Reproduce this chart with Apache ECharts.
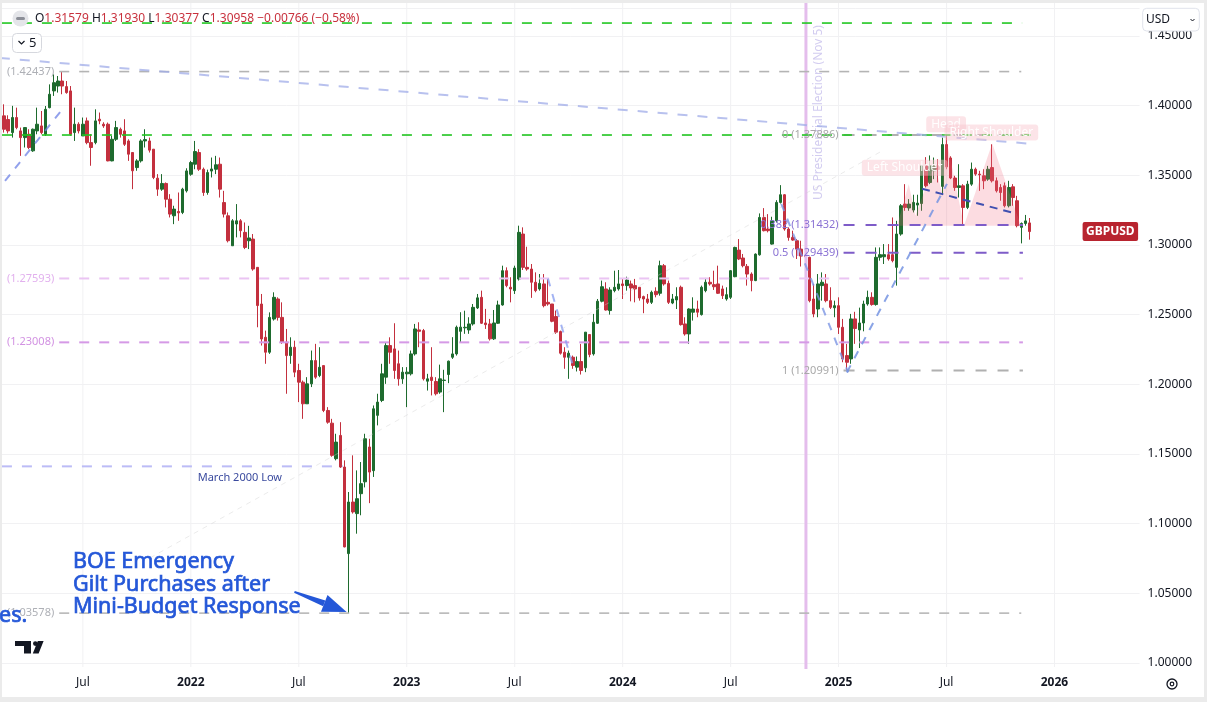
<!DOCTYPE html>
<html><head><meta charset="utf-8">
<script src="https://cdn.jsdelivr.net/npm/echarts@6/dist/echarts.min.js"></script>
<style>html,body{margin:0;padding:0;background:#fff;overflow:hidden}#c{width:1207px;height:702px}</style>
</head><body><div id="c"></div>
<script>
// ---------------- DATA ----------------
const firstWeek = '2021-02-22';
const weekCount = 274;
const opens = [
1.3926,1.3900,1.3806,1.3914,1.3818,1.3770,1.3794,1.3675,1.3818,1.3854,
1.3794,1.3985,1.4105,1.4140,1.4176,1.4136,1.4105,1.3806,1.3866,1.3782,
1.3890,1.3734,1.3734,1.3902,1.3866,1.3866,1.3603,1.3758,1.3830,1.3818,
1.3746,1.3663,1.3555,1.3603,1.3746,1.3746,1.3687,1.3479,1.3400,1.3441,
1.3328,1.3209,1.3240,1.3233,1.3388,1.3507,1.3579,1.3663,1.3543,1.3376,
1.3530,1.3543,1.3579,1.3304,1.3209,1.2994,1.3150,1.3173,1.3090,1.3030,
1.3042,1.2839,1.2576,1.2337,1.2230,1.2468,1.2612,1.2480,1.2302,1.2206,
1.2266,1.2099,1.2015,1.1860,1.2003,1.2170,1.2063,1.2134,1.1812,1.1721,
1.1466,1.1633,1.1406,1.0785,1.1155,1.1072,1.1215,1.1300,1.1550,1.1380,
1.1777,1.1884,1.2051,1.2278,1.2254,1.2147,1.2039,1.2075,1.2075,1.2218,
1.2390,1.2385,1.2022,1.2051,1.2020,1.1944,1.2027,1.2070,1.2194,1.2218,
1.2380,1.2405,1.2390,1.2433,1.2548,1.2624,1.2440,1.2433,1.2326,1.2438,
1.2569,1.2815,1.2696,1.2672,1.2755,1.3078,1.2839,1.2827,1.2732,1.2684,
1.2720,1.2588,1.2576,1.2486,1.2378,1.2230,1.2194,1.2194,1.2123,1.2163,
1.2118,1.2357,1.2218,1.2438,1.2596,1.2684,1.2529,1.2672,1.2684,1.2720,
1.2708,1.2720,1.2708,1.2696,1.2629,1.2612,1.2588,1.2667,1.2653,1.2851,
1.2724,1.2583,1.2605,1.2696,1.2433,1.2361,1.2517,1.2540,1.2500,1.2672,
1.2732,1.2715,1.2720,1.2684,1.2612,1.2624,1.2772,1.2963,1.2906,1.2846,
1.2791,1.2744,1.2929,1.3197,1.3114,1.3006,1.3173,1.3305,1.3360,1.3114,
1.3054,1.3030,1.2970,1.2925,1.2911,1.2612,1.2540,1.2708,1.2720,1.2600,
1.2549,1.2564,1.2409,1.2206,1.2182,1.2469,1.2390,1.2440,1.2576,1.2624,
1.2572,1.2911,1.2915,1.2930,1.2930,1.2839,1.3078,1.3293,1.3265,1.3250,
1.3286,1.3297,1.3567,1.3448,1.3532,1.3567,1.3420,1.3720,1.3624,1.3480,
1.3412,1.3424,1.3269,1.3436,1.3543,1.3508,1.3496,1.3472,1.3555,1.3460,
1.3412,1.3424,1.3281,1.3417,1.3317,1.3126,1.3154,1.31579];
const highs = [
1.4009,1.3930,1.3998,1.3985,1.3842,1.3845,1.3830,1.3835,1.3985,1.3961,
1.3997,1.4152,1.4224,1.4212,1.4244,1.4176,1.4140,1.3985,1.3880,1.3914,
1.3914,1.3794,1.3973,1.3950,1.3880,1.3878,1.3782,1.3890,1.3842,1.3902,
1.3758,1.3663,1.3615,1.3758,1.3830,1.3770,1.3687,1.3508,1.3508,1.3448,
1.3364,1.3281,1.3376,1.3410,1.3550,1.3603,1.3746,1.3687,1.3555,1.3540,
1.3627,1.3639,1.3627,1.3388,1.3233,1.3185,1.3293,1.3185,1.3161,1.3137,
1.3078,1.2839,1.2648,1.2385,1.2516,1.2660,1.2624,1.2588,1.2397,1.2337,
1.2313,1.2147,1.2027,1.2051,1.2242,1.2290,1.2266,1.2134,1.1836,1.1752,
1.1645,1.1728,1.1454,1.1227,1.1490,1.1382,1.1442,1.1645,1.1609,1.1848,
1.1932,1.2147,1.2302,1.2337,1.2438,1.2242,1.2123,1.2123,1.2242,1.2433,
1.2445,1.2397,1.2075,1.2266,1.2051,1.2141,1.2104,1.2170,1.2338,1.2421,
1.2517,1.2528,1.2481,1.2576,1.2648,1.2672,1.2541,1.2469,1.2533,1.2600,
1.2851,1.2839,1.2768,1.2851,1.3138,1.3126,1.2987,1.2863,1.2803,1.2791,
1.2791,1.2755,1.2576,1.2529,1.2385,1.2266,1.2242,1.2206,1.2199,1.2290,
1.2374,1.2357,1.2505,1.2612,1.2744,1.2732,1.2696,1.2815,1.2820,1.2756,
1.2772,1.2744,1.2756,1.2696,1.2636,1.2648,1.2672,1.2696,1.2887,1.2863,
1.2744,1.2648,1.2696,1.2708,1.2481,1.2545,1.2624,1.2600,1.2708,1.2763,
1.2768,1.2815,1.2851,1.2708,1.2696,1.2820,1.2987,1.3042,1.2935,1.2863,
1.2803,1.2939,1.3226,1.3264,1.3221,1.3202,1.3321,1.3429,1.3365,1.3126,
1.3102,1.3042,1.3030,1.2990,1.2915,1.2720,1.2791,1.2803,1.2791,1.2696,
1.2600,1.2624,1.2469,1.2290,1.2505,1.2520,1.2550,1.2600,1.2672,1.2660,
1.2982,1.2982,1.3006,1.3006,1.3197,1.3173,1.3293,1.3436,1.3329,1.3360,
1.3360,1.3571,1.3630,1.3642,1.3627,1.3615,1.3770,1.3789,1.3636,1.3496,
1.3579,1.3436,1.3460,1.3591,1.3555,1.3532,1.3543,1.3567,1.3722,1.3484,
1.3436,1.3448,1.3460,1.3436,1.3352,1.3161,1.3215,1.31930];
const lows = [
1.3806,1.3800,1.3770,1.3830,1.3639,1.3699,1.3687,1.3668,1.3794,1.3794,
1.3782,1.3980,1.4069,1.4093,1.4081,1.4085,1.3782,1.3746,1.3800,1.3782,
1.3722,1.3568,1.3722,1.3866,1.3840,1.3600,1.3600,1.3746,1.3770,1.3710,
1.3603,1.3400,1.3532,1.3591,1.3699,1.3663,1.3472,1.3352,1.3388,1.3269,
1.3197,1.3149,1.3173,1.3221,1.3376,1.3496,1.3543,1.3531,1.3352,1.3360,
1.3484,1.3508,1.3340,1.3197,1.3018,1.2994,1.3054,1.3054,1.2970,1.2970,
1.2815,1.2409,1.2278,1.2147,1.2218,1.2457,1.2457,1.2290,1.1932,1.2147,
1.2051,1.1872,1.1752,1.1860,1.1980,1.2039,1.2051,1.1800,1.1717,1.1480,
1.1454,1.1400,1.0830,1.0358,1.1072,1.0928,1.1060,1.1260,1.1147,1.1335,
1.1705,1.1872,1.2003,1.2147,1.2039,1.1990,1.2003,1.1836,1.2063,1.2206,
1.2266,1.2027,1.1955,1.1920,1.1920,1.1932,1.1800,1.2008,1.2182,1.2206,
1.2302,1.2362,1.2362,1.2421,1.2540,1.2433,1.2397,1.2314,1.2318,1.2433,
1.2564,1.2696,1.2588,1.2648,1.2744,1.2820,1.2815,1.2620,1.2660,1.2672,
1.2552,1.2564,1.2445,1.2362,1.2213,1.2111,1.2039,1.2111,1.2092,1.2070,
1.2087,1.2194,1.2206,1.2433,1.2588,1.2529,1.2500,1.2660,1.2672,1.2612,
1.2672,1.2595,1.2588,1.2600,1.2510,1.2576,1.2576,1.2624,1.2636,1.2708,
1.2576,1.2575,1.2540,1.2421,1.2349,1.2290,1.2457,1.2481,1.2493,1.2660,
1.2708,1.2677,1.2648,1.2612,1.2600,1.2612,1.2768,1.2891,1.2839,1.2708,
1.2667,1.2740,1.2923,1.3097,1.3090,1.3002,1.3161,1.3297,1.3102,1.3030,
1.3030,1.2899,1.2845,1.2840,1.2588,1.2481,1.2481,1.2600,1.2588,1.2540,
1.2481,1.2361,1.2158,1.2099,1.2147,1.2290,1.2260,1.2380,1.2564,1.2564,
1.2564,1.2887,1.2863,1.2887,1.2875,1.2708,1.3066,1.3245,1.3245,1.3233,
1.3209,1.3245,1.3412,1.3436,1.3472,1.3448,1.3364,1.3543,1.3472,1.3388,
1.3340,1.3137,1.3257,1.3424,1.3496,1.3388,1.3400,1.3460,1.3448,1.3376,
1.3317,1.3269,1.3269,1.3281,1.3126,1.3011,1.3138,1.30377];
const closes = [
1.3830,1.3818,1.3914,1.3842,1.3770,1.3842,1.3699,1.3830,1.3866,1.3806,
1.3973,1.4081,1.4164,1.4176,1.4140,1.4093,1.3794,1.3866,1.3818,1.3866,
1.3734,1.3699,1.3890,1.3890,1.3854,1.3603,1.3758,1.3842,1.3794,1.3722,
1.3651,1.3532,1.3603,1.3746,1.3756,1.3680,1.3484,1.3400,1.3441,1.3328,
1.3221,1.3257,1.3230,1.3400,1.3531,1.3591,1.3670,1.3543,1.3376,1.3519,
1.3545,1.3575,1.3400,1.3221,1.3030,1.3173,1.3173,1.3102,1.2982,1.3050,
1.2827,1.2565,1.2325,1.2230,1.2480,1.2624,1.2480,1.2302,1.2206,1.2266,
1.2087,1.2015,1.1860,1.2003,1.2170,1.2051,1.2122,1.1812,1.1728,1.1490,
1.1585,1.1406,1.0833,1.1155,1.1084,1.1179,1.1287,1.1609,1.1370,1.1824,
1.1872,1.2075,1.2278,1.2230,1.2099,1.2039,1.2087,1.2087,1.2218,1.2397,
1.2380,1.2039,1.2039,1.2027,1.1932,1.2039,1.2030,1.2166,1.2218,1.2409,
1.2410,1.2409,1.2433,1.2552,1.2620,1.2438,1.2428,1.2326,1.2440,1.2569,
1.2815,1.2708,1.2684,1.2834,1.3090,1.2839,1.2827,1.2732,1.2672,1.2724,
1.2564,1.2576,1.2452,1.2374,1.2223,1.2194,1.2223,1.2135,1.2163,1.2099,
1.2374,1.2213,1.2445,1.2596,1.2700,1.2533,1.2677,1.2696,1.2720,1.2708,
1.2748,1.2691,1.2684,1.2619,1.2612,1.2588,1.2660,1.2643,1.2851,1.2720,
1.2588,1.2612,1.2629,1.2428,1.2361,1.2540,1.2540,1.2517,1.2696,1.2732,
1.2720,1.2700,1.2653,1.2636,1.2643,1.2815,1.2982,1.2899,1.2851,1.2791,
1.2744,1.2934,1.3197,1.3102,1.3102,1.3173,1.3305,1.3360,1.3114,1.3054,
1.3035,1.2970,1.2920,1.2915,1.2600,1.2505,1.2720,1.2732,1.2600,1.2552,
1.2564,1.2409,1.2182,1.2158,1.2469,1.2400,1.2440,1.2576,1.2624,1.2572,
1.2911,1.2930,1.2930,1.2899,1.2887,1.3078,1.3281,1.3269,1.3293,1.3305,
1.3300,1.3567,1.3424,1.3567,1.3567,1.3540,1.3720,1.3560,1.3480,1.3412,
1.3424,1.3269,1.3436,1.3543,1.3508,1.3503,1.3460,1.3543,1.3460,1.3388,
1.3376,1.3281,1.3412,1.3340,1.3138,1.3154,1.31724,1.30958];

const tickDates = ['2021-07-05','2022-01-03','2022-07-04','2023-01-02','2023-07-03','2024-01-01','2024-07-01','2024-12-30','2025-06-30','2025-12-29'];
const tickTexts = ['Jul','2022','Jul','2023','Jul','2024','Jul','2025','Jul','2026'];

// horizontal levels: price, start week, end week (week index from firstWeek)
const levelPrices = [1.45920, 1.42437, 1.37886, 1.27593, 1.23008, 1.14110, 1.03578];
const levelStartWeek = [-0.5, 13.3, -0.5, 13.3, 13.3, -0.5, 13.3];
const levelEndWeek   = [245.2, 245.0, 247.3, 245.4, 245.4, 81.6, 245.0];

// Fibonacci retracement
const fibHigh = 1.37886, fibLow = 1.20991;
const fibRatios = [0, 0.382, 0.5, 1];
const fibStartWeek = 202.2, fibEndWeek = 245.4;

// trend lines
const trendStartWeek  = [-1.0, 0.25, 131.0, 35.2, 187.2, 203.0, 221.1];
const trendStartPrice = [1.4341, 1.3460, 1.2758, 1.0755, 1.3295, 1.2085, 1.3403];
const trendEndWeek    = [247.5, 14.7, 137.0, 212.0, 203.3, 227.1, 243.0];
const trendEndPrice   = [1.3725, 1.3997, 1.2135, 1.3683, 1.2085, 1.3438, 1.3231];

// head & shoulders outline
const hsWeeks  = [215.1, 217.9, 219.5, 224.1, 226.0, 226.8, 231.2, 238.0, 244.9];
const hsPrices = [1.3138, 1.3436, 1.3209, 1.3584, 1.3369, 1.3782, 1.3138, 1.3727, 1.3138];
const hsLabelTexts  = ['Left Shoulder', 'Head', 'Right Shoulder'];
const hsLabelWeeks  = [216.9, 226.9, 237.8];
const hsLabelPrices = [1.3553, 1.3865, 1.3807];

const electionWeek = 193.14;      // 5 Nov 2024
const crashWeek = 83;             // week of 26 Sep 2022
const march2000LabelWeek = 56.8;

// ---------------- BUILD ----------------
const DAY = 86400000, t0 = Date.UTC(2021, 1, 22);
const categories = [];
for (let i = 0; i < weekCount; i++) categories.push(new Date(t0 + i * 7 * DAY).toISOString().slice(0, 10));
const labelMap = {}; tickDates.forEach((d, i) => labelMap[d] = tickTexts[i]);
const tickIdx = tickDates.map(d => categories.indexOf(d));
const n = Math.min(opens.length, highs.length, lows.length, closes.length);
const candles = [];
for (let i = 0; i < n; i++) candles.push([opens[i], closes[i], lows[i], highs[i]]);
const last = n - 1;
const chg = closes[last] - closes[last - 1];
const pct = chg / closes[last - 1] * 100;
const sgn = v => (v < 0 ? '\u2212' : '+') + Math.abs(v);

const UP = '#1e6b2e', DOWN = '#c3303e';
const FF = '"Noto Sans", sans-serif';
const F = (s, w) => (w ? w + ' ' : '') + s + 'px ' + FF;

const LEVEL_STYLE = [
  {c:'#22c722', w:1.6, d:[10,10]},
  {c:'#b4b4b4', w:1.6, d:[10,10], lc:'#aeb0b6'},
  {c:'#1fc51f', w:1.6, d:[10,10]},
  {c:'#eac4f3', w:2, d:[10,10], lc:'#e2b1ee'},
  {c:'#d59ae6', w:2, d:[10,10], lc:'#d292e2'},
  {c:'#bcbcf6', w:2, d:[10,10]},
  {c:'#b8b8b8', w:1.6, d:[10,10], lc:'#aeb0b6'}
];
const FIB_STYLE = [
  {c:'#b0b0b0', lc:'#a9a9a9'}, {c:'#7e5cc8', lc:'#8a72d4'}, {c:'#7e5cc8', lc:'#8a72d4'}, {c:'#b0b0b0', lc:'#a9a9a9'}
];
const TREND_STYLE = [
  {c:'rgba(160,172,232,0.75)', w:2, d:[10,10]},
  {c:'rgba(110,130,230,0.75)', w:2, d:[8,8]},
  {c:'rgba(140,160,240,0.8)', w:2, d:[8,8]},
  {c:'rgba(205,205,205,0.4)', w:1, d:[5,5]},
  {c:'rgba(125,150,228,0.8)', w:2, d:[8,8]},
  {c:'rgba(118,148,226,0.85)', w:2, d:[8,8]},
  {c:'#3f4fb0', w:2, d:[8,6]}
];

function cs(name, data, renderItem, z) {
  return {type:'custom', name, coordinateSystem:'cartesian2d', xAxisIndex:1, yAxisIndex:0,
    data, renderItem, z, clip:false, silent:true};
}

const series = [];
series.push(cs('vgrid', tickIdx.map(i => [i, 1.2]), (p, api) => {
  const x = api.coord([api.value(0), 1.2])[0], c = p.coordSys;
  return {type:'line', shape:{x1:x, y1:c.y - 5, x2:x, y2:c.y + c.height + 4}, style:{stroke:'#f1f1f3', lineWidth:1}};
}, 0));
series.push({type:'candlestick', xAxisIndex:0, yAxisIndex:0, data:candles, barWidth:3, silent:true, z:2,
  itemStyle:{color:UP, color0:DOWN, borderColor:UP, borderColor0:DOWN, borderWidth:1}});
series.push(cs('election', [[electionWeek, 1.2]], (p, api) => {
  const x = api.coord([api.value(0), 1.2])[0], c = p.coordSys;
  return {type:'group', children:[
    {type:'rect', shape:{x:x - 1.5, y:c.y - 6, width:3, height:c.height + 12}, style:{fill:'#e4bdec'}},
    {type:'text', x:x + 13, y:200, rotation:Math.PI / 2,
      style:{text:'US Presidential Election (Nov 5)', fill:'#d3cdf0', font:F(12), align:'left', verticalAlign:'middle'}}
  ]};
}, 3));
series.push(cs('hs', [[0, 1.3]], (p, api) => {
  const pts = hsWeeks.map((w, i) => api.coord([w, hsPrices[i]]));
  return {type:'polygon', shape:{points:pts}, style:{fill:'rgba(242,110,130,0.24)'}};
}, 3));
series.push(cs('fib', fibRatios.map(r => [fibStartWeek, fibEndWeek, fibHigh - r * (fibHigh - fibLow)]), (p, api) => {
  const a = api.coord([api.value(0), api.value(2)]), b = api.coord([api.value(1), api.value(2)]);
  const st = FIB_STYLE[p.dataIndex];
  return {type:'line', shape:{x1:a[0], y1:a[1], x2:b[0], y2:b[1]}, style:{stroke:st.c, lineWidth:2, lineDash:[11,11]}};
}, 3));
series.push(cs('levels', levelPrices.map((v, i) => [levelStartWeek[i], levelEndWeek[i], v]), (p, api) => {
  const i = p.dataIndex, st = LEVEL_STYLE[i];
  const a = api.coord([api.value(0), api.value(2)]), b = api.coord([api.value(1), api.value(2)]);
  const ch = [{type:'line', shape:{x1:a[0], y1:a[1], x2:b[0], y2:b[1]}, style:{stroke:st.c, lineWidth:st.w, lineDash:st.d}}];
  if (st.lc) ch.push({type:'text', style:{text:'(' + api.value(2).toFixed(5) + ')', x:a[0] - 5, y:a[1], fill:st.lc, font:F(11), align:'right', verticalAlign:'middle'}});
  if (i === 5) {
    const m = api.coord([march2000LabelWeek, api.value(2)]);
    ch.push({type:'text', style:{text:'March 2000 Low', x:m[0], y:m[1] + 11, fill:'#3a4a9e', font:F(11), align:'center', verticalAlign:'middle'}});
  }
  return {type:'group', children:ch};
}, 4));
series.push(cs('trends', trendStartWeek.map((w, i) => [w, trendStartPrice[i], trendEndWeek[i], trendEndPrice[i]]), (p, api) => {
  const st = TREND_STYLE[p.dataIndex];
  const a = api.coord([api.value(0), api.value(1)]), b = api.coord([api.value(2), api.value(3)]);
  return {type:'line', shape:{x1:a[0], y1:a[1], x2:b[0], y2:b[1]}, style:{stroke:st.c, lineWidth:st.w, lineDash:st.d}};
}, 4));
series.push(cs('fibLabels', fibRatios.map(r => [fibStartWeek, fibHigh - r * (fibHigh - fibLow), r]), (p, api) => {
  const a = api.coord([api.value(0), api.value(1)]);
  const st = FIB_STYLE[p.dataIndex];
  return {type:'text', style:{text:String(api.value(2)) + ' (' + api.value(1).toFixed(5) + ')', x:a[0] - 5, y:a[1], fill:st.lc, font:F(11), align:'right', verticalAlign:'middle'}};
}, 5));
series.push(cs('hsLabels', hsLabelWeeks.map((w, i) => [w, hsLabelPrices[i]]), (p, api) => {
  const a = api.coord([api.value(0), api.value(1)]);
  return {type:'text', style:{text:hsLabelTexts[p.dataIndex], x:a[0], y:a[1], fill:'rgba(255,255,255,0.95)', font:F(12),
    align:'center', verticalAlign:'middle', backgroundColor:'rgba(248,196,204,0.45)', padding:[2,5], borderRadius:3}};
}, 5));
series.push(cs('arrow', [[crashWeek, lows[crashWeek]]], (p, api) => {
  const t = api.coord([api.value(0), api.value(1)]);
  const tip = [t[0] - 2, t[1] - 1];
  const ux = 0.932, uy = 0.362, nx = -0.362, ny = 0.932;
  const tail = [tip[0] - 56 * ux, tip[1] - 56 * uy];
  const bc = [tip[0] - 24 * ux, tip[1] - 24 * uy];
  return {type:'group', children:[
    {type:'polygon', shape:{points:[[tail[0] + 1 * nx, tail[1] + 1 * ny], [tail[0] - 1 * nx, tail[1] - 1 * ny], [bc[0] - 3 * nx, bc[1] - 3 * ny], [bc[0] + 3 * nx, bc[1] + 3 * ny]]}, style:{fill:'#2457d8'}},
    {type:'polygon', shape:{points:[tip, [bc[0] + 9 * nx, bc[1] + 9 * ny], [bc[0] - 9 * nx, bc[1] - 9 * ny]]}, style:{fill:'#2457d8'}}
  ]};
}, 6));
series.push(cs('tag', [[last, closes[last]]], (p, api) => {
  const a = api.coord([api.value(0), api.value(1)]), c = p.coordSys;
  const x0 = c.x + c.width - 57;
  return {type:'group', children:[
    {type:'rect', shape:{x:x0, y:a[1] - 9.5, width:55.5, height:19, r:2}, style:{fill:'#b8242f'}},
    {type:'text', style:{text:'GBPUSD', x:x0 + 27.75, y:a[1] + 0.5, fill:'#fff', font:F(12, 'bold'), align:'center', verticalAlign:'middle'}}
  ]};
}, 6));

const header = '{d|O}{r|' + opens[last].toFixed(5) + '} {d|H}{r|' + highs[last].toFixed(5) + '} {d|L}{r|' + lows[last].toFixed(5) +
  '} {d|C}{r|' + closes[last].toFixed(5) + '} {r|' + sgn(+chg.toFixed(5)) + ' (' + sgn(+pct.toFixed(2)) + '%)}';

const blue = '#2457d8';
const boeStyle = t => ({text:t, fill:blue, stroke:blue, lineWidth:0.7, font:F(21.5), verticalAlign:'middle'});
const graphic = [
  {type:'rect', z:100, shape:{x:0, y:0, width:1207, height:3}, style:{fill:'#ebebeb'}},
  {type:'rect', z:100, shape:{x:0, y:0, width:2, height:702}, style:{fill:'#ebebeb'}},
  {type:'rect', z:100, shape:{x:0, y:697, width:1207, height:5}, style:{fill:'#ebebeb'}},
  {type:'rect', z:100, shape:{x:1204, y:0, width:3, height:702}, style:{fill:'#ebebeb'}},
  {type:'circle', z:100, shape:{cx:20.5, cy:18.5, r:8}, style:{fill:'#e4e5e9'}},
  {type:'rect', z:100, shape:{x:16, y:17, width:9, height:3, r:1.5}, style:{fill:'#8b8e97'}},
  {type:'text', z:100, x:35, y:18.5, style:{text:header, font:F(12), verticalAlign:'middle',
    rich:{d:{fill:'#131722', fontSize:12, fontFamily:FF}, r:{fill:'#c8313d', fontSize:12, fontFamily:FF}}}},
  {type:'rect', z:100, shape:{x:12.5, y:33.5, width:29, height:19, r:4}, style:{fill:'#fff', stroke:'#d6d8de', lineWidth:1}},
  {type:'polyline', z:100, shape:{points:[[18.5,41],[21.5,44],[24.5,41]]}, style:{stroke:'#131722', lineWidth:1.2, fill:null}},
  {type:'text', z:100, x:29, y:43, style:{text:'5', fill:'#131722', font:F(13), verticalAlign:'middle'}},
  {type:'rect', z:100, shape:{x:1142.7, y:8.3, width:56.6, height:22.7, r:4}, style:{fill:'#fff', stroke:'#e0e3eb', lineWidth:1}},
  {type:'text', z:101, x:1146, y:20, style:{text:'USD', fill:'#131722', font:F(12), verticalAlign:'middle'}},
  {type:'polyline', z:101, shape:{points:[[1190.5,19],[1192.5,21],[1194.5,19]]}, style:{stroke:'#131722', lineWidth:1, fill:null}},
  {type:'text', z:100, x:73, y:562.3, style:boeStyle('BOE Emergency')},
  {type:'text', z:100, x:73, y:584.7, style:boeStyle('Gilt Purchases after')},
  {type:'text', z:100, x:73, y:607, style:boeStyle('Mini-Budget Response')},
  {type:'text', z:100, x:-1, y:616, style:boeStyle('es.')},
  {type:'rect', z:100, shape:{x:15, y:641, width:16, height:5}, style:{fill:'#131722'}},
  {type:'rect', z:100, shape:{x:24, y:641, width:7, height:12.5}, style:{fill:'#131722'}},
  {type:'circle', z:100, shape:{cx:35.3, cy:643.6, r:2.3}, style:{fill:'#131722'}},
  {type:'polygon', z:100, shape:{points:[[32.8,653.5],[38.6,653.5],[43.6,641],[37.8,641]]}, style:{fill:'#131722'}},
  {type:'circle', z:100, shape:{cx:1172, cy:684, r:5}, style:{fill:null, stroke:'#131722', lineWidth:1.3}},
  {type:'circle', z:100, shape:{cx:1172, cy:684, r:1.8}, style:{fill:null, stroke:'#131722', lineWidth:1.2}}
];

const option = {
  animation:false,
  backgroundColor:'#ffffff',
  grid:{left:1.92, right:67.4, top:8, bottom:39, containLabel:false, outerBoundsMode:'none'},
  xAxis:[
    {type:'category', data:categories, boundaryGap:true, axisLine:{show:false}, axisTick:{show:false}, splitLine:{show:false},
      axisLabel:{interval:(i, v) => v in labelMap, margin:14, color:'#131722', fontSize:12, fontFamily:FF,
        formatter:v => { const t = labelMap[v] || ''; return /^\d{4}$/.test(t) ? '{b|' + t + '}' : t; },
        rich:{b:{fontWeight:'bold', fontSize:12, fontFamily:FF, color:'#131722'}}}},
    {type:'value', min:-0.5, max:weekCount - 0.5, show:false}
  ],
  yAxis:[{type:'value', position:'right', min:1.0, max:1.47, interval:0.05,
    axisLine:{show:false}, axisTick:{show:false},
    axisLabel:{formatter:v => v.toFixed(5), color:'#131722', fontSize:12, fontFamily:FF, margin:8, showMaxLabel:false},
    splitLine:{show:true, lineStyle:{color:'#f1f1f3', width:1}}}],
  series,
  graphic
};
const chart = echarts.init(document.getElementById('c'));
chart.setOption(option);
</script>
</body></html>
